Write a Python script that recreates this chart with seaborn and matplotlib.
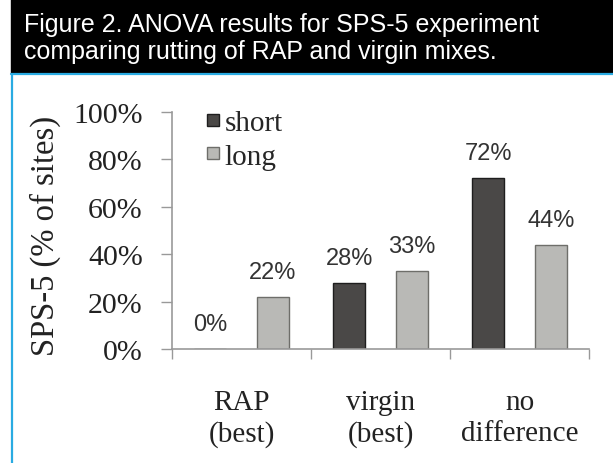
import pandas as pd
import numpy as np
import matplotlib
matplotlib.use("Agg")
import matplotlib.pyplot as plt
from matplotlib.lines import Line2D
from matplotlib.patches import Rectangle
import seaborn as sns

# -----------------------
# Data
# -----------------------

groups = ["RAP\n(best)", "virgin\n(best)", "no\ndifference"]
short_vals = [0, 28, 72]
long_vals = [22, 33, 44]
series = ["short", "long"]

df = pd.DataFrame({
    "group": groups * 2,
    "pct": short_vals + long_vals,
    "length": [series[0]] * 3 + [series[1]] * 3,
})

short_color = "#4a4846"
long_color = "#b9b9b5"

# -----------------------
# Figure
# -----------------------

sns.set_style("white")
plt.rcParams["font.family"] = ["Liberation Serif", "DejaVu Serif"]

fig = plt.figure(figsize=(6.13, 4.64), dpi=100)

# black header band with blue frame lines
fig.patches.append(Rectangle((11 / 613, 1 - 74 / 464), 1, 74 / 464,
                             transform=fig.transFigure, color="black", zorder=0))
fig.add_artist(Line2D([11 / 613, 1], [1 - 75 / 464] * 2,
                      transform=fig.transFigure, color="#29abe2", lw=1.6))
fig.add_artist(Line2D([12 / 613] * 2, [0, 1 - 75 / 464],
                      transform=fig.transFigure, color="#29abe2", lw=1.6))

fig.text(24 / 613, 1 - 32 / 464, "Figure 2. ANOVA results for SPS-5 experiment",
         color="white", fontsize=18, family="Liberation Sans", va="baseline")
fig.text(24 / 613, 1 - 59 / 464, "comparing rutting of RAP and virgin mixes.",
         color="white", fontsize=18, family="Liberation Sans", va="baseline")

ax = fig.add_axes([172 / 613, 1 - 350 / 464, 417 / 613, 237 / 464])

sns.barplot(
    data=df,
    x="group",
    y="pct",
    hue="length",
    palette=[short_color, long_color],
    width=0.9,
    gap=0.49,
    edgecolor="#2a2a2a",
    linewidth=1.0,
    legend=False,
    ax=ax,
)

for cont, ec in zip(ax.containers, ["#1e1e1e", "#6e6e6a"]):
    for bar in cont:
        bar.set_edgecolor(ec)
    ax.bar_label(cont, fmt="%d%%", padding=10, fontsize=17,
                 family="Liberation Sans", color="#333333")

# -----------------------
# Axes styling
# -----------------------

ax.set_ylim(0, 100)
ax.set_xlim(-0.5, 2.5)
ax.set_yticks(np.arange(0, 101, 20))
ax.set_yticklabels([f"{v}%" for v in range(0, 101, 20)])

ax.set_xticks([-0.5, 0.5, 1.5, 2.5])
ax.set_xticklabels([])
ax.set_xticks([0, 1, 2], groups, minor=True)
for lab in ax.get_xticklabels(minor=True):
    lab.set_linespacing(1.25)

ax.tick_params(axis="y", which="major", length=8, width=1, color="#999999",
               pad=13, labelsize=21.5, labelcolor="#222222", left=True)
ax.tick_params(axis="x", which="major", length=7, width=1, color="#999999",
               direction="out", bottom=True)
ax.tick_params(axis="x", which="minor", length=0, pad=29, labelsize=21,
               labelcolor="#222222")

for side in ["top", "right"]:
    ax.spines[side].set_visible(False)
for side in ["left", "bottom"]:
    ax.spines[side].set_color("#999999")
    ax.spines[side].set_linewidth(1.2)

ax.set_xlabel("")
ax.set_ylabel("SPS-5 (% of sites)", fontsize=23.5, color="#222222")
ax.yaxis.set_label_coords(-0.265, 0.48)

# legend
handles = [
    Line2D([], [], marker="s", ls="", markersize=9, markerfacecolor=short_color,
           markeredgecolor="#1e1e1e"),
    Line2D([], [], marker="s", ls="", markersize=9, markerfacecolor=long_color,
           markeredgecolor="#6e6e6a"),
]
ax.legend(handles, series, loc="upper left", bbox_to_anchor=(0.035, 1.06),
          frameon=False, fontsize=21, handletextpad=-0.1, labelspacing=0.25,
          handlelength=1.0, borderaxespad=0)

fig.savefig("out.png", dpi=100, facecolor="white")
